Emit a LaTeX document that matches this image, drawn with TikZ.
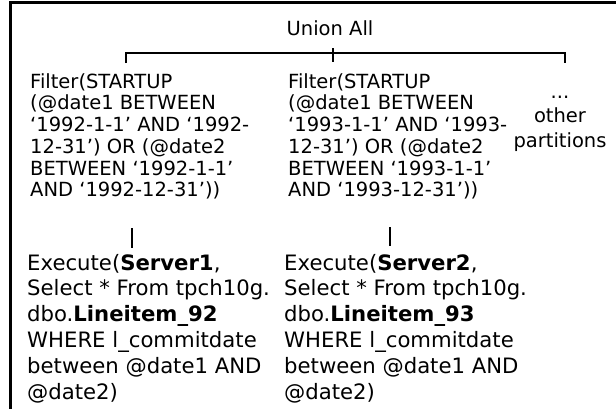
\documentclass[tikz,border=0pt]{standalone}
\usepackage{fontspec}
\newfontfamily\planfont{DejaVu Sans}
\newfontfamily\execfont{DejaVu Sans}
\begin{document}
\begin{tikzpicture}[x=1pt,y=-1pt,
  planop/.style={inner sep=0pt, align=left, anchor=base west,
    font=\planfont\fontsize{19.5}{21.7}\selectfont},
  execop/.style={inner sep=0pt, align=left, anchor=base west,
    font=\execfont\fontsize{21.2}{25.8}\selectfont},
  link/.style={line width=1.4pt},
  frame/.style={line width=2.5pt}]
\useasboundingbox (0,0) rectangle (616,408);
\draw[frame] (10.7,410) -- (10.7,2.7) -- (620,2.7);

% top operator
\node[planop, anchor=base] (union) at (330,35) {Union All};

% startup filters (anchored on their last line)
\node[planop] (f1) at (30,196.7) {Filter(STARTUP\\(@date1 BETWEEN\\‘1992-1-1’ AND ‘1992-\\12-31’) OR (@date2\\BETWEEN ‘1992-1-1’\\AND ‘1992-12-31’))};
\node[planop] (f2) at (288,196.7) {Filter(STARTUP\\(@date1 BETWEEN\\‘1993-1-1’ AND ‘1993-\\12-31’) OR (@date2\\BETWEEN ‘1993-1-1’\\AND ‘1993-12-31’))};
\node[planop, anchor=base, align=center, font=\planfont\fontsize{19.5}{24.5}\selectfont] (more) at (560,147) {...\\other\\partitions};

% remote executions (anchored on their last line)
\node[execop] (e1) at (27,399) {Execute(\textbf{Server1},\\Select * From tpch10g.\\dbo.\textbf{Lineitem\_92}\\WHERE l\_commitdate\\between @date1 AND\\@date2)};
\node[execop] (e2) at (284,399) {Execute(\textbf{Server2},\\Select * From tpch10g.\\dbo.\textbf{Lineitem\_93}\\WHERE l\_commitdate\\between @date1 AND\\@date2)};

% bracket joining the partitions
\coordinate (hub) at (333,48);
\coordinate (legL) at (126,63);
\coordinate (legR) at (565,63);
\draw[link] (legL) -- ++(0,-10) -| (legR);
\draw[link] (hub) -- ++(0,14);

% filter to execute links
\coordinate (t1) at (132,228);
\coordinate (t2) at (390,227);
\draw[link] (t1) -- ++(0,20);
\draw[link] (t2) -- ++(0,19);
\end{tikzpicture}
\end{document}
